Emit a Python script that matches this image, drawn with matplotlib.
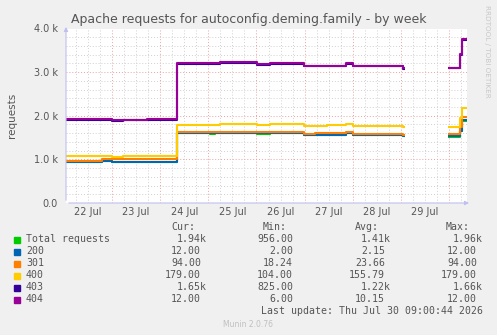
#!/usr/bin/env python3
import numpy as np
import matplotlib
matplotlib.use("Agg")
import matplotlib.pyplot as plt
from matplotlib.ticker import MultipleLocator, FuncFormatter

# days counted from 22 Jul 00:00, one entry per step change
t = [0.04, 0.79, 1.00, 1.23, 1.72, 2.04, 2.34, 3.03, 3.14, 3.24, 4.01, 4.28,
     4.98, 5.21, 5.46, 5.52, 5.86, 6.00, 7.04, 7.08, 7.98, 8.22, 8.27, 8.375]
nan = np.nan
total = [935, 955, 943, 943, 943, 930, 1600, 1577, 1600, 1600, 1577, 1600,
         1560, 1550, 1554, 1560, 1600, 1560, 1540, nan, 1520, 1650, 1880, 1880]
s200 = [3, 3, 3, 3, 3, 15, 5, 23, 5, 5, 23, 5,
        5, 6, 16, 5, 5, 5, 5, nan, 11, 10, 17, 17]
s301 = [35, 42, 54, 54, 54, 55, 18, 23, 18, 18, 23, 18,
        12, 44, 30, 35, 18, 12, 15, nan, 46, 90, 76, 76]
s400 = [108, 81, 60, 81, 81, 81, 167, 167, 167, 187, 160, 183,
        189, 166, 183, 183, 192, 189, 180, nan, 168, 200, 197, 197]
s403 = [827, 833, 820, 813, 819, 833, 1404, 1390, 1404, 1401, 1387, 1388,
        1370, 1370, 1357, 1357, 1379, 1370, 1340, nan, 1340, 1450, 1568, 1568]
s404 = [12, 6, 20, 6, 20, 6, 6, 20, 6, 12, 14, 6,
        12, 12, 8, 8, 6, 12, 13, nan, 8, 10, 12, 12]

names = ["Total requests", "200", "301", "400", "403", "404"]
colors = ["#00CC00", "#0066B3", "#FF8000", "#FFCC00", "#330099", "#990099"]
cur = ["1.94k", "12.00 ", "94.00 ", "179.00 ", "1.65k", "12.00 "]
mins = ["956.00 ", "2.00 ", "18.24 ", "104.00 ", "825.00 ", "6.00 "]
avgs = ["1.41k", "2.15 ", "23.66 ", "155.79 ", "1.22k", "10.15 "]
maxs = ["1.96k", "12.00 ", "94.00 ", "179.00 ", "1.66k", "12.00 "]
day_labels = ["22 Jul", "23 Jul", "24 Jul", "25 Jul", "26 Jul", "27 Jul", "28 Jul", "29 Jul"]

fig = plt.figure(figsize=(4.97, 3.35), dpi=100, facecolor="#F0F0F0")
ax = fig.add_axes([66/497, 1-203/335, (467-66)/497, (203-28.5)/335])
ax.set_facecolor("white")

stack = np.cumsum(np.array([total, s200, s301, s400, s403, s404], dtype=float), axis=0)
for lvl, c in zip(stack, colors):
    ax.plot(t, lvl, drawstyle="steps-post", color=c, lw=1.5, solid_capstyle="butt")

ax.set_xlim(0.0415, 8.375)
ax.set_ylim(0, 4000)
ax.xaxis.set_major_locator(MultipleLocator(1))
ax.xaxis.set_minor_locator(MultipleLocator(0.25))
ax.yaxis.set_major_locator(MultipleLocator(1000))
ax.yaxis.set_minor_locator(MultipleLocator(200))
ax.grid(which="minor", color="#D0D0D0", ls=(0, (1, 2)), lw=0.7)
ax.grid(which="major", color="#F0A0A0", ls=(0, (1, 2)), lw=0.7)
ax.set_axisbelow(True)
for s in ax.spines.values():
    s.set_visible(False)
ax.tick_params(which="both", length=0, colors="#555555", labelsize=7, pad=6)
ax.yaxis.set_major_formatter(FuncFormatter(lambda v, p: "0.0" if v == 0 else "%.1f k" % (v/1000)))
ax.set_xticklabels([])
for i, lab in enumerate(day_labels):
    ax.text(i + 0.5, -90, lab, ha="center", va="top", fontsize=7, color="#555555")
ax.set_ylabel("requests", fontsize=7.5, color="#555555")
ax.yaxis.set_label_coords(-49/401, 0.5)

# axis lines with arrow heads
ax.annotate("", xy=(1.012, 0), xytext=(0, 0), xycoords="axes fraction",
            arrowprops=dict(arrowstyle="-|>", color="#C0C0F0", lw=0.8, mutation_scale=6))
ax.annotate("", xy=(0, 1.025), xytext=(0, 0), xycoords="axes fraction",
            arrowprops=dict(arrowstyle="-|>", color="#C0C0F0", lw=0.8, mutation_scale=6))

fig.text(249/497, 1-19/335, "Apache requests for autoconfig.deming.family - by week",
         ha="center", va="center", fontsize=9.0, color="#555555")
fig.text(487/497, 1-5/335, "RRDTOOL / TOBI OETIKER", rotation=270, ha="center", va="top",
         fontsize=5.2, color="#C8C8C8")

# legend block
mono = "DejaVu Sans Mono"
fs = 7.1
def fy(y):
    return 1 - y/335
for x, h in [(195, "Cur:"), (287, "Min:"), (379, "Avg:"), (470, "Max:")]:
    fig.text(x/497, fy(227.5), h, ha="right", va="center", family=mono, fontsize=fs, color="#555555")
for i in range(6):
    y = 239.5 + 12 * i
    fig.patches.append(plt.Rectangle(((14)/497, fy(y + 3)), 6/497, 6/335,
                                     transform=fig.transFigure, color=colors[i]))
    fig.text(26/497, fy(y), names[i], ha="left", va="center", family=mono, fontsize=fs, color="#555555")
    for x, col in [(207, cur), (299, mins), (391, avgs), (483, maxs)]:
        s = col[i]
        xr = x if s.endswith("k") else x - 6
        fig.text(xr/497, fy(y), s.strip(), ha="right", va="center", family=mono,
                 fontsize=fs, color="#555555")
fig.text(483/497, fy(311.5), "Last update: Thu Jul 30 09:00:44 2026", ha="right", va="center",
         family=mono, fontsize=fs, color="#555555")
fig.text(248/497, fy(324.5), "Munin 2.0.76", ha="center", va="center", fontsize=5.5, color="#C0C0C0")

fig.savefig("out.png", dpi=100, facecolor=fig.get_facecolor())
